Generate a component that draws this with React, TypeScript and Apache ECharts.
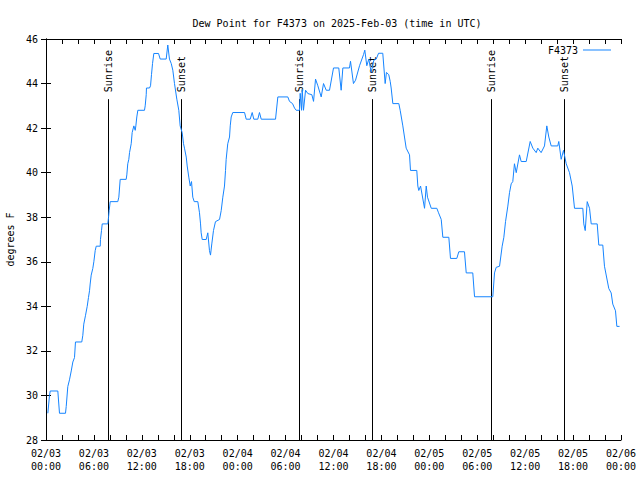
import React, { useEffect, useRef } from "react";
import * as echarts from "echarts";

// hours since 2025-02-03 00:00 UTC
const hours = [
  0.23, 0.44, 0.53, 1.48, 1.69, 2.44, 2.53, 2.73, 2.94, 3.16, 3.36, 3.57, 3.69, 4.48, 4.61, 4.73, 4.95, 5.16, 5.32, 5.45,
  5.53, 5.66, 5.86, 5.99, 6.16, 6.29, 6.79, 6.82, 6.95, 7.04, 7.74, 7.83, 7.91, 8.04, 8.99, 9.12, 9.29, 10.04, 10.12, 10.24,
  10.37, 10.46, 10.67, 10.79, 11.0, 11.17, 11.25, 11.37, 11.5, 12.33, 12.42, 12.55, 12.58, 12.96, 13.09, 13.21, 13.34, 13.5, 14.09, 14.3,
  15.05, 15.25, 15.46, 15.68, 15.88, 16.09, 16.38, 16.63, 16.8, 17.05, 17.22, 17.34, 17.56, 17.68, 17.88, 18.06, 18.22, 18.38, 18.56, 19.01,
  19.22, 19.35, 19.43, 19.56, 20.06, 20.26, 20.47, 20.6, 20.76, 20.97, 21.22, 21.73, 21.94, 22.14, 22.35, 22.48, 22.56, 22.76, 22.98, 23.07,
  23.19, 23.39, 24.86, 25.07, 25.57, 25.82, 26.02, 26.52, 26.73, 26.95, 28.74, 29.03, 30.28, 30.49, 30.87, 31.12, 31.33, 31.74, 31.83, 32.0,
  32.08, 32.24, 32.5, 32.79, 33.29, 33.5, 33.75, 34.04, 34.46, 34.75, 35.09, 35.5, 36.0, 36.66, 36.96, 37.17, 38.0, 38.13, 38.5, 38.76,
  39.26, 39.76, 39.92, 40.17, 40.42, 40.72, 41.05, 41.35, 41.64, 42.17, 42.47, 42.63, 42.92, 43.1, 43.22, 43.43, 44.18, 44.35, 44.68, 44.89,
  45.1, 45.52, 45.64, 46.43, 46.56, 46.68, 46.9, 47.4, 47.61, 47.77, 48.24, 48.94, 49.15, 49.49, 49.69, 50.44, 50.65, 51.44, 51.69, 52.4,
  52.62, 53.44, 53.66, 55.95, 56.16, 56.37, 56.79, 57.12, 57.33, 57.54, 57.83, 58.04, 58.25, 58.45, 58.66, 58.88, 59.29, 59.5, 60.13, 60.63,
  60.96, 61.38, 61.58, 62.0, 62.42, 62.71, 62.96, 63.26, 64.08, 64.21, 64.51, 64.8, 65.14, 65.55, 65.89, 66.18, 67.22, 67.34, 67.52, 67.77,
  68.06, 68.27, 69.02, 69.22, 69.72, 69.93, 70.47, 70.77, 70.97, 71.31, 71.48, 71.82,
];

const dewPoint = [
  29.2, 30.0, 30.2, 30.2, 29.2, 29.2, 29.5, 30.4, 30.7, 31.1, 31.5, 31.7, 32.4, 32.4, 32.7, 33.2, 33.6, 34.0, 34.4, 34.7,
  35.0, 35.4, 35.7, 36.0, 36.5, 36.7, 36.7, 37.0, 37.4, 37.7, 37.7, 38.0, 38.3, 38.7, 38.7, 38.9, 39.7, 39.7, 39.9, 40.4,
  40.6, 40.9, 41.3, 41.8, 42.1, 41.9, 42.1, 42.5, 42.8, 42.8, 43.0, 43.5, 43.8, 43.8, 43.9, 44.4, 44.9, 45.35, 45.35, 45.1,
  45.1, 45.73, 45.1, 44.9, 44.6, 44.0, 43.3, 42.8, 42.1, 41.8, 41.3, 41.1, 40.7, 40.3, 39.8, 39.4, 39.6, 38.9, 38.7, 38.7,
  38.2, 37.7, 37.3, 37.0, 37.0, 37.3, 36.5, 36.3, 36.8, 37.4, 37.8, 37.9, 38.3, 38.9, 39.4, 40.1, 40.6, 41.3, 41.6, 42.1,
  42.5, 42.7, 42.7, 42.4, 42.4, 42.7, 42.4, 42.4, 42.7, 42.4, 42.4, 43.4, 43.4, 43.2, 43.1, 42.9, 42.8, 42.8, 43.56, 42.8,
  43.74, 42.8, 43.7, 43.55, 43.5, 43.2, 44.2, 43.9, 43.4, 44.0, 43.7, 43.7, 44.7, 44.7, 43.7, 44.7, 44.7, 45.0, 44.0, 44.15,
  44.8, 45.3, 45.5, 44.8, 45.1, 44.5, 45.05, 45.1, 45.36, 45.36, 44.0, 44.5, 44.4, 44.1, 43.8, 43.1, 43.1, 42.8, 42.1, 41.6,
  41.1, 40.8, 40.1, 40.1, 39.4, 39.2, 39.4, 38.4, 39.4, 38.9, 38.4, 38.4, 38.2, 37.9, 37.1, 37.1, 36.15, 36.15, 36.45, 36.45,
  35.5, 35.5, 34.43, 34.43, 35.5, 35.75, 35.8, 36.7, 37.1, 37.8, 38.5, 39.1, 39.5, 39.6, 40.4, 40.0, 40.8, 40.5, 40.5, 41.4,
  41.1, 40.9, 41.1, 40.9, 41.2, 42.1, 41.6, 41.2, 41.2, 41.4, 40.6, 41.0, 40.4, 40.0, 39.4, 38.4, 38.4, 37.7, 37.4, 38.7,
  38.4, 37.7, 37.7, 36.75, 36.75, 35.8, 34.8, 34.6, 34.1, 33.8, 33.1, 33.1,
];

const sunTimes = [7.75, 16.92, 31.7, 40.85, 55.75, 64.9];
const sunLabels = ["Sunrise", "Sunset", "Sunrise", "Sunset", "Sunrise", "Sunset"];
const sunLineTop = 43.3;

const xMin = 0;
const xMax = 72;
const yMin = 28;
const yMax = 46;

const FONT = "'DejaVu Sans Mono', 'Liberation Mono', monospace";

function fmtX(v: number): string {
  if (v % 6 !== 0) return "";
  const d = 3 + Math.floor(v / 24);
  const hh = v % 24;
  return `02/0${d}\n${String(hh).padStart(2, "0")}:00`;
}

export default function App() {
  const ref = useRef<HTMLDivElement>(null);
  useEffect(() => {
    if (!ref.current) return;
    const chart = echarts.init(ref.current, undefined, { renderer: "svg" });
    const lineData = hours.map((h, i) => [h, dewPoint[i]]);
    const sunData = sunTimes.map((t) => [t, sunLineTop]);
    const axisLine = { show: true, lineStyle: { color: "#000", width: 1 } };
    chart.setOption({
      animation: false,
      backgroundColor: "#fff",
      textStyle: { fontFamily: FONT, fontSize: 10, color: "#000" },
      title: {
        text: "Dew Point for F4373 on 2025-Feb-03 (time in UTC)",
        left: 332,
        top: 13,
        textAlign: "center",
        textStyle: { fontFamily: FONT, fontSize: 10, fontWeight: "normal", color: "#000" },
      },
      legend: {
        right: 24,
        top: 40,
        align: "right",
        icon: "rect",
        itemWidth: 28,
        itemHeight: 1,
        itemGap: 0,
        textStyle: { fontFamily: FONT, fontSize: 10, color: "#000" },
        data: ["F4373"],
      },
      grid: { left: 46, right: 19, top: 39, bottom: 40, outerBoundsMode: "none", containLabel: false },
      xAxis: [
        {
          type: "value",
          min: xMin,
          max: xMax,
          interval: 2,
          axisLine,
          axisTick: { show: true, inside: true, length: 5, lineStyle: { color: "#000" } },
          splitLine: { show: false },
          axisLabel: {
            formatter: fmtX,
            margin: 7,
            lineHeight: 13,
            fontFamily: FONT,
            fontSize: 10,
            color: "#000",
            showMinLabel: true,
            showMaxLabel: true,
          },
        },
        {
          type: "value",
          position: "top",
          min: xMin,
          max: xMax,
          interval: 2,
          axisLine,
          axisTick: { show: true, inside: true, length: 5, lineStyle: { color: "#000" } },
          splitLine: { show: false },
          axisLabel: { show: false },
        },
      ],
      yAxis: [
        {
          type: "value",
          min: yMin,
          max: yMax,
          interval: 2,
          name: "degrees F",
          nameLocation: "middle",
          nameGap: 31,
          nameTextStyle: { fontFamily: FONT, fontSize: 10, color: "#000" },
          axisLine,
          axisTick: { show: true, inside: true, length: 5, lineStyle: { color: "#000" } },
          splitLine: { show: false },
          axisLabel: { margin: 8, fontFamily: FONT, fontSize: 10, color: "#000" },
        },
        {
          type: "value",
          position: "right",
          min: yMin,
          max: yMax,
          interval: 2,
          axisLine,
          axisTick: { show: true, inside: true, length: 5, lineStyle: { color: "#000" } },
          splitLine: { show: false },
          axisLabel: { show: false },
        },
      ],
      series: [
        {
          name: "F4373",
          type: "line",
          data: lineData,
          symbol: "none",
          color: "#1584ff",
          lineStyle: { color: "#1584ff", width: 1 },
          z: 3,
        },
        {
          name: "sun",
          type: "custom",
          data: sunData,
          clip: false,
          z: 2,
          renderItem: (params: any, api: any) => {
            const t = api.value(0);
            const top = api.coord([t, api.value(1)]);
            const bot = api.coord([t, yMin]);
            const x = Math.round(top[0]) + 0.5;
            return {
              type: "group",
              children: [
                {
                  type: "line",
                  shape: { x1: x, y1: top[1], x2: x, y2: bot[1] },
                  style: { stroke: "#000", lineWidth: 1 },
                },
                {
                  type: "text",
                  x: x,
                  y: top[1] - 7,
                  rotation: Math.PI / 2,
                  style: {
                    text: sunLabels[params.dataIndex],
                    font: `10px ${FONT}`,
                    fill: "#000",
                    align: "left",
                    verticalAlign: "middle",
                  },
                },
              ],
            };
          },
        },
      ],
    });
    return () => chart.dispose();
  }, []);
  return (
    <div
      ref={ref}
      style={{ position: "absolute", left: 0, top: 0, width: 640, height: 480 }}
    />
  );
}
